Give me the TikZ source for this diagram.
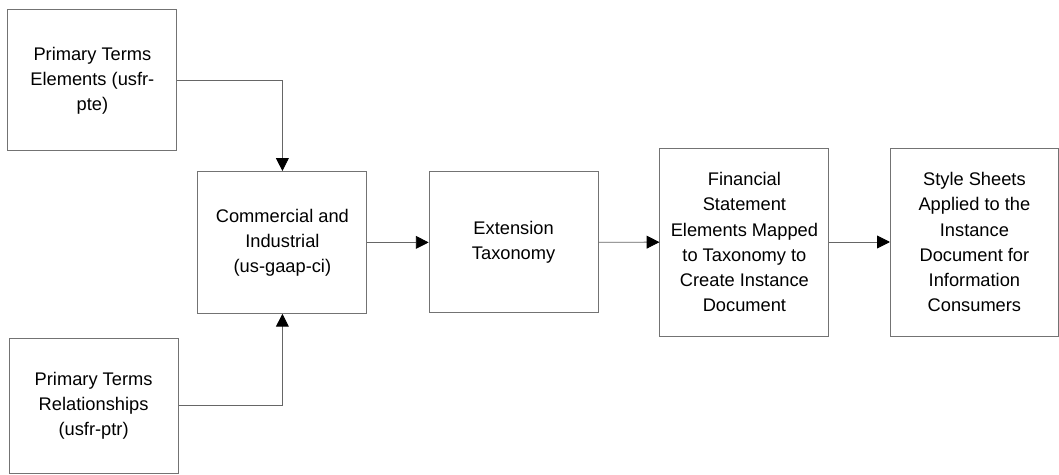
\documentclass[tikz,border=0pt]{standalone}
\usepackage{fontspec}
\setmainfont{Liberation Sans}
\usepackage{tikz}
\usetikzlibrary{arrows.meta,positioning}
\tikzset{
  stage/.style={draw=black!55, line width=0.6pt, align=center, inner sep=3pt, minimum width=4.225cm,
    font=\fontsize{13pt}{17.8pt}\selectfont},
  flow/.style={-{Triangle[length=3.2mm,width=3.2mm,color=black]}, draw=black!60, line width=0.6pt}
}
\begin{document}
\begin{tikzpicture}[
  tall/.style={minimum height=4.7cm},
  mid/.style={minimum height=3.525cm}
]
\useasboundingbox (0,0) rectangle (26.475,-11.875);
% taxonomies
\node[stage, mid] (pte) at (2.31,-2.01) {Primary Terms\\Elements (usfr-\\pte)};
\node[stage, minimum height=3.375cm] (ptr) at (2.34,-10.14) {Primary Terms\\Relationships\\(usfr-ptr)};
\node[stage, minimum height=3.55cm] (ci) at (7.06,-6.06) {Commercial and\\Industrial\\(us-gaap-ci)};
\node[stage, mid] (ext) at (12.84,-6.06) {Extension\\Taxonomy};
% instance and presentation
\node[stage, tall] (inst) at (18.61,-6.05) {Financial\\Statement\\Elements Mapped\\to Taxonomy to\\Create Instance\\Document};
\node[stage, tall, minimum width=4.2cm] (sheets) at (24.36,-6.05) {Style Sheets\\Applied to the\\Instance\\Document for\\Information\\Consumers};
% connectors
\draw[flow] (pte.east) -| (ci.north);
\draw[flow] (ptr.east) -| (ci.south);
\draw[flow] (ci) -- (ext);
\draw[flow] (ext) -- (inst);
\draw[flow] (inst) -- (sheets);
\end{tikzpicture}
\end{document}
